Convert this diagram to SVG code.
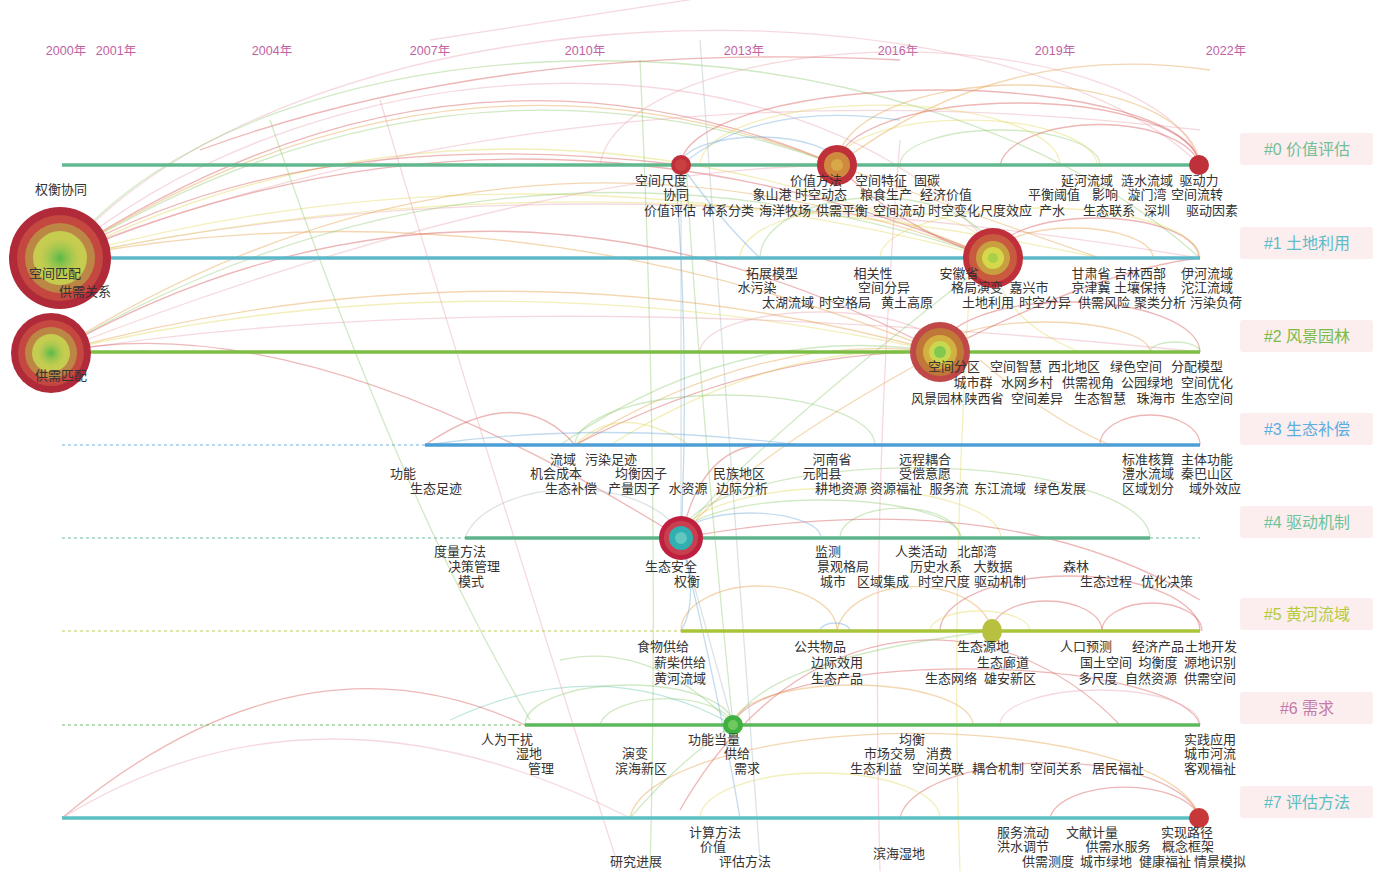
<svg xmlns="http://www.w3.org/2000/svg" width="1373" height="871" viewBox="0 0 1373 871">
<defs>
<style>
.t{font-family:"Liberation Sans","Noto Sans CJK SC",sans-serif;font-size:13px;fill:#333333;text-anchor:middle}
.yr{font-family:"Liberation Sans","Noto Sans CJK SC",sans-serif;font-size:12.5px;fill:#c062a4;text-anchor:middle}
.cl{font-family:"Liberation Sans","Noto Sans CJK SC",sans-serif;font-size:16px;text-anchor:middle}
.box{fill:#fcedef}
.a{fill:none;stroke-width:1.3;opacity:.4}
.r{stroke:#d24a4a}.o{stroke:#e49a3c}.y{stroke:#e2d656}.g{stroke:#8cc86c}.b{stroke:#6aa6d8}.p{stroke:#e8a0ac}.gr{stroke:#a8b8c0}.tl{stroke:#62c0b0}
.ln{stroke-width:3.5;fill:none}
.ds{stroke-width:1.5;stroke-dasharray:3 3;fill:none;opacity:.6}
</style>
<radialGradient id="gc"><stop offset="0" stop-color="#58b848"/><stop offset="1" stop-color="#8cc850" stop-opacity="0"/></radialGradient>
</defs>
<rect width="1373" height="871" fill="#ffffff"/>

<g id="years">
<text class="yr" x="66" y="55">2000年</text>
<text class="yr" x="116" y="55">2001年</text>
<text class="yr" x="272" y="55">2004年</text>
<text class="yr" x="430" y="55">2007年</text>
<text class="yr" x="585" y="55">2010年</text>
<text class="yr" x="744" y="55">2013年</text>
<text class="yr" x="898" y="55">2016年</text>
<text class="yr" x="1055" y="55">2019年</text>
<text class="yr" x="1226" y="55">2022年</text>
</g>

<g id="connectors">
<path class="a p" d="M60,258 C300,-25 1000,-30 1200,165"/>
<path class="a g" d="M60,258 C260,0 900,-10 1200,258"/>
<path class="a p" d="M60,258 C330,30 820,20 1000,258"/>
<path class="a r" d="M60,258 Q450,0 837,165"/>
<path class="a o" d="M60,258 Q450,10 837,165"/>
<path class="a g" d="M60,258 Q450,20 837,165"/>
<path class="a y" d="M60,258 Q500,40 993,258"/>
<path class="a r" d="M60,258 Q520,60 993,258"/>
<path class="a y" d="M60,258 Q520,130 993,258"/>
<path class="a p" d="M60,258 Q560,150 1199,258"/>
<path class="a o" d="M60,258 Q500,175 940,352"/>
<path class="a r" d="M60,258 Q300,120 681,165"/>
<path class="a p" d="M430,40 L720,-5"/>
<path class="a r" d="M200,150 Q500,40 900,60"/>
<path class="a p" d="M100,240 Q600,60 1200,130"/>
<path class="a y" d="M100,250 Q600,150 1100,258"/>
<path class="a o" d="M52,353 Q500,70 993,258"/>
<path class="a g" d="M52,353 Q500,90 993,258"/>
<path class="a r" d="M52,353 Q480,110 940,352"/>
<path class="a y" d="M52,353 Q480,250 940,352"/>
<path class="a p" d="M52,353 Q500,280 1200,352"/>
<path class="a r" d="M52,353 Q300,300 681,538"/>
<path class="a p" d="M52,353 Q520,170 837,165"/>
<path class="a o" d="M52,353 Q500,230 940,352"/>
<path class="a r" d="M681,165 A259,75 0 0 1 1199,165"/>
<path class="a r" d="M837,165 A181,62 0 0 1 1199,165"/>
<path class="a o" d="M837,165 A181,80 0 0 1 1199,165"/>
<path class="a b" d="M681,165 A78,28 0 0 1 837,165"/>
<path class="a b" d="M681,165 Q760,100 900,120"/>
<path class="a o" d="M837,165 Q1000,40 1210,70"/>
<path class="a y" d="M837,165 A130,45 0 0 1 1097,165"/>
<path class="a g" d="M900,165 A100,35 0 0 1 1100,165"/>
<path class="a r" d="M1000,165 A100,45 0 0 1 1199,165"/>
<path class="a p" d="M600,165 A300,120 0 0 1 1199,165"/>
<path class="a y" d="M700,165 A180,60 0 0 1 1060,165"/>
<path class="a r" d="M993,258 A103,40 0 0 1 1199,258"/>
<path class="a o" d="M993,258 A80,30 0 0 1 1153,258"/>
<path class="a y" d="M740,258 A126,50 0 0 1 993,258"/>
<path class="a g" d="M760,258 A116,60 0 0 1 993,258"/>
<path class="a b" d="M681,165 Q720,220 760,258"/>
<path class="a r" d="M837,165 Q900,230 993,258"/>
<path class="a o" d="M837,165 Q960,210 1100,258"/>
<path class="a y" d="M880,258 A160,50 0 0 1 1200,258"/>
<path class="a o" d="M940,352 A105,30 0 0 1 1150,352"/>
<path class="a r" d="M940,352 A130,50 0 0 1 1200,352"/>
<path class="a g" d="M1150,352 A25,10 0 0 1 1200,352"/>
<path class="a y" d="M993,258 Q1000,320 1080,352"/>
<path class="a r" d="M940,352 Q1100,270 1199,258"/>
<path class="a p" d="M700,352 A120,40 0 0 1 940,352"/>
<path class="a r" d="M425,445 Q520,380 575,445"/>
<path class="a o" d="M575,445 Q760,330 940,352"/>
<path class="a r" d="M575,445 Q760,350 940,352"/>
<path class="a g" d="M560,445 Q740,320 940,352"/>
<path class="a y" d="M610,445 Q780,340 940,352"/>
<path class="a y" d="M575,445 Q620,400 690,445"/>
<path class="a g" d="M575,445 A150,50 0 0 1 875,445"/>
<path class="a r" d="M1100,445 A50,30 0 0 1 1200,445"/>
<path class="a b" d="M425,445 Q600,420 800,445"/>
<path class="a o" d="M980,360 Q1050,420 1110,445"/>
<path class="a g" d="M681,538 A140,38 0 0 1 961,538"/>
<path class="a g" d="M681,538 A234,70 0 0 1 1150,538"/>
<path class="a b" d="M681,538 A70,25 0 0 1 821,538"/>
<path class="a y" d="M681,538 A160,50 0 0 1 1001,538"/>
<path class="a g" d="M840,538 A60,30 0 0 1 960,538"/>
<path class="a r" d="M681,538 Q700,450 760,445"/>
<path class="a o" d="M681,538 Q740,460 940,352"/>
<path class="a g" d="M681,538 Q720,470 993,258"/>
<path class="a gr" d="M465,538 A110,60 0 0 1 681,538"/>
<path class="a r" d="M681,538 Q1000,480 1200,600"/>
<path class="a o" d="M681,631 A78,45 0 0 1 837,631"/>
<path class="a o" d="M837,631 A78,50 0 0 1 992,631"/>
<path class="a r" d="M992,631 A55,30 0 0 1 1102,631"/>
<path class="a r" d="M1102,631 A50,28 0 0 1 1202,631"/>
<path class="a r" d="M940,631 A130,55 0 0 1 1200,631"/>
<path class="a y" d="M930,631 A50,20 0 0 1 1030,631"/>
<path class="a b" d="M820,631 A15,8 0 0 1 850,631"/>
<path class="a b" d="M681,538 Q700,600 681,631"/>
<path class="a g" d="M525,725 A104,40 0 0 1 733,725"/>
<path class="a g" d="M600,725 A67,30 0 0 1 733,725"/>
<path class="a tl" d="M733,725 Q600,650 450,720"/>
<path class="a g" d="M733,725 Q650,640 560,660"/>
<path class="a r" d="M733,725 A234,60 0 0 1 1200,725"/>
<path class="a r" d="M680,810 C800,600 1000,600 1120,725"/>
<path class="a o" d="M733,725 A120,40 0 0 1 973,725"/>
<path class="a p" d="M1000,725 A100,35 0 0 1 1200,725"/>
<path class="a g" d="M733,725 Q760,660 992,631"/>
<path class="a r" d="M62,818 Q300,620 525,725"/>
<path class="a p" d="M62,818 Q320,660 630,818"/>
<path class="a r" d="M1050,818 A75,35 0 0 1 1199,818"/>
<path class="a r" d="M900,818 A150,60 0 0 1 1199,818"/>
<path class="a o" d="M630,818 A285,90 0 0 1 1199,818"/>
<path class="a g" d="M630,818 Q680,760 733,725"/>
<path class="a y" d="M700,818 A120,45 0 0 1 940,818"/>
<path class="a gr" d="M681,165 L681,538"/>
<path class="a b" d="M675,165 Q690,350 681,538"/>
<path class="a g" d="M686,165 Q700,400 733,725"/>
<path class="a gr" d="M681,538 L733,725"/>
<path class="a b" d="M681,538 Q720,700 740,818"/>
<path class="a gr" d="M700,40 L760,860"/>
<path class="a g" d="M640,60 Q660,500 650,871"/>
<path class="a p" d="M900,140 Q870,500 880,871"/>
<path class="a y" d="M970,280 Q950,600 960,871"/>
<path class="a p" d="M380,100 Q500,500 620,871"/>
<path class="a g" d="M270,120 Q400,500 530,720"/>
</g>

<g id="timelines">
<line x1="62" y1="165" x2="1200" y2="165" class="ln" stroke="#62b88e"/>
<line x1="62" y1="258" x2="1200" y2="258" class="ln" stroke="#5cb8c8"/>
<line x1="62" y1="352" x2="1200" y2="352" class="ln" stroke="#7cbe44"/>
<line x1="62" y1="445" x2="425" y2="445" class="ds" stroke="#5aa8dc"/>
<line x1="425" y1="445" x2="1200" y2="445" class="ln" stroke="#4c9ed6"/>
<line x1="62" y1="538" x2="465" y2="538" class="ds" stroke="#60b890"/>
<line x1="465" y1="538" x2="1150" y2="538" class="ln" stroke="#5cb48a"/>
<line x1="1150" y1="538" x2="1200" y2="538" class="ds" stroke="#60b890"/>
<line x1="62" y1="631" x2="681" y2="631" class="ds" stroke="#b0c840"/>
<line x1="681" y1="631" x2="1200" y2="631" class="ln" stroke="#a8c438"/>
<line x1="62" y1="725" x2="525" y2="725" class="ds" stroke="#5cb860"/>
<line x1="525" y1="725" x2="1200" y2="725" class="ln" stroke="#5cb85c"/>
<line x1="62" y1="818" x2="1200" y2="818" class="ln" stroke="#5ac0c4"/>
</g>

<g id="node-kongjianpipei">
<circle cx="60" cy="258" r="51" fill="#b02a3a"/>
<circle cx="60" cy="258" r="43" fill="#c44840"/>
<circle cx="60" cy="258" r="35" fill="#bc8644"/>
<circle cx="60" cy="258" r="27" fill="#c6cc50"/>
<circle cx="60" cy="258" r="20" fill="url(#gc)"/>
</g>
<g id="node-gongxupipei">
<circle cx="51" cy="353" r="40" fill="#b02a3a"/>
<circle cx="51" cy="353" r="33" fill="#c44840"/>
<circle cx="51" cy="353" r="26" fill="#bc8644"/>
<circle cx="51" cy="353" r="19" fill="#c6cc50"/>
<circle cx="51" cy="353" r="14" fill="url(#gc)"/>
</g>
<g id="node-kongjianchidu"><circle cx="681" cy="165" r="10" fill="#c0303a"/><circle cx="681" cy="165" r="6" fill="#c84040"/></g>
<g id="node-jiazhifangfa"><circle cx="837" cy="165" r="20" fill="#c0303a"/><circle cx="837" cy="165" r="13" fill="#d08a40"/><circle cx="837" cy="165" r="6" fill="#d8a848"/></g>
<g id="node-qudongli"><circle cx="1199" cy="165" r="10" fill="#c0303a"/></g>
<g id="node-anhuisheng">
<circle cx="993" cy="258" r="30" fill="#c0303a"/>
<circle cx="993" cy="258" r="24" fill="#c85a40"/>
<circle cx="993" cy="258" r="17" fill="#c9a040"/>
<circle cx="993" cy="258" r="11" fill="#d4d84a"/>
<circle cx="993" cy="258" r="5" fill="#a8d048"/>
</g>
<g id="node-kongjianfenqu">
<circle cx="940" cy="352" r="30" fill="#c04848"/>
<circle cx="940" cy="352" r="24" fill="#c07838"/>
<circle cx="940" cy="352" r="17" fill="#d4b040"/>
<circle cx="940" cy="352" r="11" fill="#c8d850"/>
<circle cx="940" cy="352" r="6" fill="#80c850"/>
</g>
<g id="node-shengtaianquan">
<circle cx="681" cy="538" r="22" fill="#c02040"/>
<circle cx="681" cy="538" r="17" fill="#c84050"/>
<circle cx="681" cy="538" r="12" fill="#30b0b0"/>
<circle cx="681" cy="538" r="6" fill="#60c8c0"/>
</g>
<g id="node-shengtaiyuandi"><ellipse cx="992" cy="631" rx="10" ry="12" fill="#b8c040"/></g>
<g id="node-gongnengdangliang"><circle cx="733" cy="725" r="10" fill="#40b040"/><circle cx="733" cy="725" r="5" fill="#70c860"/></g>
<g id="node-shixianlujing"><circle cx="1199" cy="818" r="10" fill="#c83838"/></g>

<g id="labels-0">
<text class="t" x="661" y="185">空间尺度</text>
<text class="t" x="816" y="185">价值方法</text>
<text class="t" x="881" y="185">空间特征</text>
<text class="t" x="927" y="185">固碳</text>
<text class="t" x="1087" y="185">延河流域</text>
<text class="t" x="1147" y="185">涟水流域</text>
<text class="t" x="1199" y="185">驱动力</text>
<text class="t" x="676" y="199">协同</text>
<text class="t" x="772" y="199">象山港</text>
<text class="t" x="821" y="199">时空动态</text>
<text class="t" x="886" y="199">粮食生产</text>
<text class="t" x="946" y="199">经济价值</text>
<text class="t" x="1054" y="199">平衡阈值</text>
<text class="t" x="1105" y="199">影响</text>
<text class="t" x="1147" y="199">漩门湾</text>
<text class="t" x="1197" y="199">空间流转</text>
<text class="t" x="670" y="215">价值评估</text>
<text class="t" x="728" y="215">体系分类</text>
<text class="t" x="785" y="215">海洋牧场</text>
<text class="t" x="842" y="215">供需平衡</text>
<text class="t" x="899" y="215">空间流动</text>
<text class="t" x="954" y="215">时空变化</text>
<text class="t" x="1006" y="215">尺度效应</text>
<text class="t" x="1052" y="215">产水</text>
<text class="t" x="1109" y="215">生态联系</text>
<text class="t" x="1157" y="215">深圳</text>
<text class="t" x="1212" y="215">驱动因素</text>
</g>

<g id="labels-1">
<text class="t" x="61" y="194">权衡协同</text>
<text class="t" x="55" y="278">空间匹配</text>
<text class="t" x="85" y="296">供需关系</text>
<text class="t" x="772" y="278">拓展模型</text>
<text class="t" x="873" y="278">相关性</text>
<text class="t" x="959" y="278">安徽省</text>
<text class="t" x="1091" y="278">甘肃省</text>
<text class="t" x="1140" y="278">吉林西部</text>
<text class="t" x="1207" y="278">伊河流域</text>
<text class="t" x="757" y="292">水污染</text>
<text class="t" x="884" y="292">空间分异</text>
<text class="t" x="977" y="292">格局演变</text>
<text class="t" x="1029" y="292">嘉兴市</text>
<text class="t" x="1091" y="292">京津冀</text>
<text class="t" x="1140" y="292">土壤保持</text>
<text class="t" x="1207" y="292">沱江流域</text>
<text class="t" x="788" y="307">太湖流域</text>
<text class="t" x="845" y="307">时空格局</text>
<text class="t" x="907" y="307">黄土高原</text>
<text class="t" x="988" y="307">土地利用</text>
<text class="t" x="1045" y="307">时空分异</text>
<text class="t" x="1104" y="307">供需风险</text>
<text class="t" x="1160" y="307">聚类分析</text>
<text class="t" x="1216" y="307">污染负荷</text>
</g>

<g id="labels-2">
<text class="t" x="61" y="380">供需匹配</text>
<text class="t" x="954" y="371">空间分区</text>
<text class="t" x="1016" y="371">空间智慧</text>
<text class="t" x="1074" y="371">西北地区</text>
<text class="t" x="1136" y="371">绿色空间</text>
<text class="t" x="1197" y="371">分配模型</text>
<text class="t" x="973" y="387">城市群</text>
<text class="t" x="1027" y="387">水网乡村</text>
<text class="t" x="1088" y="387">供需视角</text>
<text class="t" x="1147" y="387">公园绿地</text>
<text class="t" x="1207" y="387">空间优化</text>
<text class="t" x="937" y="403">风景园林</text>
<text class="t" x="984" y="403">陕西省</text>
<text class="t" x="1037" y="403">空间差异</text>
<text class="t" x="1100" y="403">生态智慧</text>
<text class="t" x="1156" y="403">珠海市</text>
<text class="t" x="1207" y="403">生态空间</text>
</g>

<g id="labels-3">
<text class="t" x="563" y="464">流域</text>
<text class="t" x="611" y="464">污染足迹</text>
<text class="t" x="832" y="464">河南省</text>
<text class="t" x="925" y="464">远程耦合</text>
<text class="t" x="1148" y="464">标准核算</text>
<text class="t" x="1207" y="464">主体功能</text>
<text class="t" x="403" y="478">功能</text>
<text class="t" x="556" y="478">机会成本</text>
<text class="t" x="641" y="478">均衡因子</text>
<text class="t" x="739" y="478">民族地区</text>
<text class="t" x="822" y="478">元阳县</text>
<text class="t" x="925" y="478">受偿意愿</text>
<text class="t" x="1148" y="478">澧水流域</text>
<text class="t" x="1207" y="478">秦巴山区</text>
<text class="t" x="436" y="493">生态足迹</text>
<text class="t" x="571" y="493">生态补偿</text>
<text class="t" x="634" y="493">产量因子</text>
<text class="t" x="688" y="493">水资源</text>
<text class="t" x="742" y="493">边际分析</text>
<text class="t" x="841" y="493">耕地资源</text>
<text class="t" x="896" y="493">资源福祉</text>
<text class="t" x="949" y="493">服务流</text>
<text class="t" x="1000" y="493">东江流域</text>
<text class="t" x="1060" y="493">绿色发展</text>
<text class="t" x="1148" y="493">区域划分</text>
<text class="t" x="1215" y="493">域外效应</text>
</g>

<g id="labels-4">
<text class="t" x="460" y="556">度量方法</text>
<text class="t" x="828" y="556">监测</text>
<text class="t" x="921" y="556">人类活动</text>
<text class="t" x="977" y="556">北部湾</text>
<text class="t" x="474" y="571">决策管理</text>
<text class="t" x="671" y="571">生态安全</text>
<text class="t" x="843" y="571">景观格局</text>
<text class="t" x="936" y="571">历史水系</text>
<text class="t" x="993" y="571">大数据</text>
<text class="t" x="1076" y="571">森林</text>
<text class="t" x="471" y="586">模式</text>
<text class="t" x="687" y="586">权衡</text>
<text class="t" x="833" y="586">城市</text>
<text class="t" x="883" y="586">区域集成</text>
<text class="t" x="944" y="586">时空尺度</text>
<text class="t" x="1000" y="586">驱动机制</text>
<text class="t" x="1106" y="586">生态过程</text>
<text class="t" x="1167" y="586">优化决策</text>
</g>

<g id="labels-5">
<text class="t" x="663" y="651">食物供给</text>
<text class="t" x="820" y="651">公共物品</text>
<text class="t" x="983" y="651">生态源地</text>
<text class="t" x="1086" y="651">人口预测</text>
<text class="t" x="1158" y="651">经济产品</text>
<text class="t" x="1211" y="651">土地开发</text>
<text class="t" x="680" y="667">薪柴供给</text>
<text class="t" x="837" y="667">边际效用</text>
<text class="t" x="1003" y="667">生态廊道</text>
<text class="t" x="1106" y="667">国土空间</text>
<text class="t" x="1158" y="667">均衡度</text>
<text class="t" x="1210" y="667">源地识别</text>
<text class="t" x="680" y="683">黄河流域</text>
<text class="t" x="837" y="683">生态产品</text>
<text class="t" x="951" y="683">生态网络</text>
<text class="t" x="1010" y="683">雄安新区</text>
<text class="t" x="1098" y="683">多尺度</text>
<text class="t" x="1151" y="683">自然资源</text>
<text class="t" x="1210" y="683">供需空间</text>
</g>

<g id="labels-6">
<text class="t" x="507" y="744">人为干扰</text>
<text class="t" x="714" y="744">功能当量</text>
<text class="t" x="912" y="744">均衡</text>
<text class="t" x="1210" y="744">实践应用</text>
<text class="t" x="529" y="758">湿地</text>
<text class="t" x="635" y="758">演变</text>
<text class="t" x="737" y="758">供给</text>
<text class="t" x="890" y="758">市场交易</text>
<text class="t" x="939" y="758">消费</text>
<text class="t" x="1210" y="758">城市河流</text>
<text class="t" x="541" y="773">管理</text>
<text class="t" x="641" y="773">滨海新区</text>
<text class="t" x="747" y="773">需求</text>
<text class="t" x="876" y="773">生态利益</text>
<text class="t" x="938" y="773">空间关联</text>
<text class="t" x="998" y="773">耦合机制</text>
<text class="t" x="1056" y="773">空间关系</text>
<text class="t" x="1118" y="773">居民福祉</text>
<text class="t" x="1210" y="773">客观福祉</text>
</g>

<g id="labels-7">
<text class="t" x="715" y="837">计算方法</text>
<text class="t" x="1023" y="837">服务流动</text>
<text class="t" x="1092" y="837">文献计量</text>
<text class="t" x="1187" y="837">实现路径</text>
<text class="t" x="713" y="851">价值</text>
<text class="t" x="1023" y="851">洪水调节</text>
<text class="t" x="1118" y="851">供需水服务</text>
<text class="t" x="1188" y="851">概念框架</text>
<text class="t" x="899" y="858">滨海湿地</text>
<text class="t" x="636" y="866">研究进展</text>
<text class="t" x="745" y="866">评估方法</text>
<text class="t" x="1048" y="866">供需测度</text>
<text class="t" x="1106" y="866">城市绿地</text>
<text class="t" x="1165" y="866">健康福祉</text>
<text class="t" x="1220" y="866">情景模拟</text>
</g>

<g id="cluster-labels">
<rect class="box" x="1240" y="133" width="133" height="32" rx="3"/>
<text class="cl" x="1307" y="155" fill="#72bf98">#0  价值评估</text>
<rect class="box" x="1240" y="227" width="133" height="32" rx="3"/>
<text class="cl" x="1307" y="249" fill="#5cbcc8">#1  土地利用</text>
<rect class="box" x="1240" y="320" width="133" height="32" rx="3"/>
<text class="cl" x="1307" y="342" fill="#78bc48">#2  风景园林</text>
<rect class="box" x="1240" y="413" width="133" height="32" rx="3"/>
<text class="cl" x="1307" y="435" fill="#5aaee0">#3  生态补偿</text>
<rect class="box" x="1240" y="506" width="133" height="32" rx="3"/>
<text class="cl" x="1307" y="528" fill="#6cc49a">#4  驱动机制</text>
<rect class="box" x="1240" y="598" width="133" height="32" rx="3"/>
<text class="cl" x="1307" y="620" fill="#b2cc3c">#5  黄河流域</text>
<rect class="box" x="1240" y="692" width="133" height="32" rx="3"/>
<text class="cl" x="1307" y="714" fill="#c47aa8">#6  需求</text>
<rect class="box" x="1240" y="786" width="133" height="32" rx="3"/>
<text class="cl" x="1307" y="808" fill="#5cbfc0">#7  评估方法</text>
</g>
</svg>
